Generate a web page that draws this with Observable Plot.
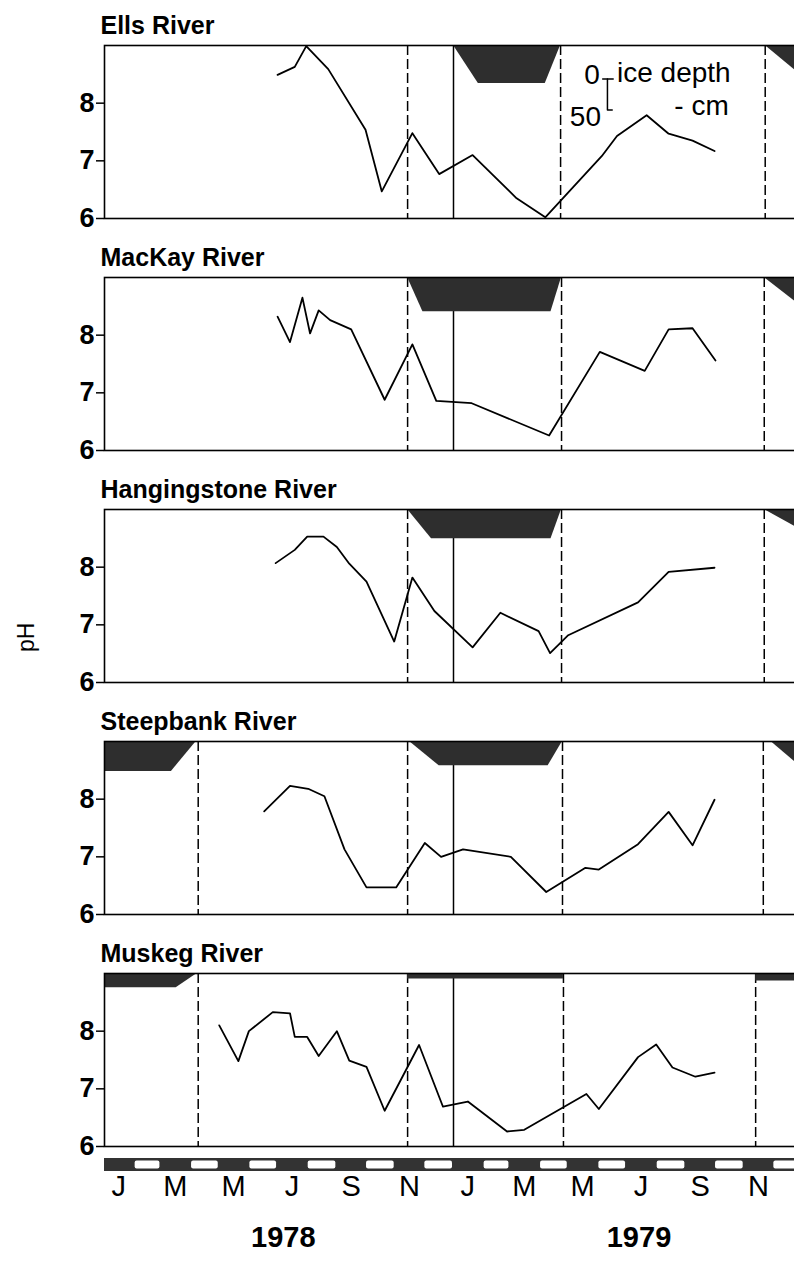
<!DOCTYPE html>
<html>
<head>
<meta charset="utf-8">
<script src="https://cdn.jsdelivr.net/npm/d3@7"></script>
<script src="https://cdn.jsdelivr.net/npm/@observablehq/plot@0.6"></script>
<style>
  html, body { margin: 0; padding: 0; background: #fff; }
  #chart { position: relative; width: 794px; height: 1262px; overflow: hidden; }
  #chart svg { position: absolute; left: 0; overflow: visible; max-width: none !important; }
</style>
</head>
<body>
<div id="chart"></div>
<script>
// ---- pH series (sampling date, pH) ----
const ellsDates = ["1978-07-01","1978-07-19","1978-07-31","1978-08-23","1978-10-01","1978-10-18","1978-11-19","1978-12-17","1979-01-21","1979-03-08","1979-04-07","1979-06-05","1979-06-21","1979-07-22","1979-08-14","1979-09-08","1979-10-01"];
const ellsPH = [8.49,8.63,8.99,8.59,7.54,6.47,7.48,6.77,7.10,6.35,6.02,7.08,7.43,7.79,7.47,7.35,7.17];

const mackayDates = ["1978-07-01","1978-07-14","1978-07-27","1978-08-04","1978-08-13","1978-08-25","1978-09-16","1978-10-21","1978-11-19","1978-12-14","1979-01-20","1979-04-11","1979-06-03","1979-07-20","1979-08-14","1979-09-08","1979-10-02"];
const mackayPH = [8.32,7.88,8.65,8.03,8.43,8.26,8.10,6.88,7.84,6.86,6.82,6.26,7.71,7.38,8.10,8.12,7.56];

const hangDates = ["1978-06-29","1978-07-19","1978-08-01","1978-08-18","1978-09-01","1978-09-14","1978-10-02","1978-10-31","1978-11-19","1978-12-12","1979-01-21","1979-02-19","1979-03-31","1979-04-12","1979-05-01","1979-07-13","1979-08-14","1979-10-01"];
const hangPH = [8.07,8.30,8.53,8.53,8.35,8.06,7.75,6.71,7.82,7.24,6.61,7.21,6.89,6.51,6.82,7.39,7.92,7.99];

const steepDates = ["1978-06-17","1978-07-14","1978-08-02","1978-08-19","1978-09-09","1978-10-02","1978-11-02","1978-12-02","1978-12-19","1979-01-11","1979-03-02","1979-04-08","1979-05-19","1979-06-02","1979-07-13","1979-08-14","1979-09-08","1979-10-01"];
const steepPH = [7.79,8.23,8.18,8.05,7.13,6.47,6.47,7.24,7.00,7.13,7.00,6.39,6.81,6.78,7.22,7.78,7.20,7.99];

const muskegDates = ["1978-05-01","1978-05-21","1978-06-01","1978-06-26","1978-07-14","1978-07-19","1978-08-01","1978-08-13","1978-09-01","1978-09-14","1978-10-02","1978-10-21","1978-11-26","1978-12-21","1979-01-16","1979-02-26","1979-03-16","1979-05-20","1979-06-02","1979-07-13","1979-08-01","1979-08-18","1979-09-11","1979-10-01"];
const muskegPH = [8.10,7.48,8.00,8.33,8.31,7.90,7.90,7.57,8.00,7.49,7.38,6.62,7.76,6.69,6.78,6.26,6.29,6.91,6.65,7.55,7.77,7.37,7.21,7.28];

// ---- ice cover: [season, date, depth in cm] ----
const ellsIce = [[1,"1979-01-01",0],[1,"1979-01-27",61],[1,"1979-04-07",61],[1,"1979-04-23",0],
                 [2,"1979-11-23",0],[2,"1980-01-10",61],[2,"1980-03-01",61]];
const mackayIce = [[1,"1978-11-14",0],[1,"1978-11-30",55],[1,"1979-04-13",55],[1,"1979-04-24",0],
                   [2,"1979-11-22",0],[2,"1980-01-07",55],[2,"1980-03-01",55]];
const hangIce = [[1,"1978-11-14",0],[1,"1978-12-09",47],[1,"1979-04-13",47],[1,"1979-04-24",0],
                 [2,"1979-11-22",0],[2,"1980-01-16",47],[2,"1980-03-01",47]];
const steepIce = [[0,"1978-01-01",48],[0,"1978-03-12",48],[0,"1978-04-07",0],
                  [1,"1978-11-16",0],[1,"1978-12-17",39],[1,"1979-04-10",39],[1,"1979-04-25",0],
                  [2,"1979-11-29",0],[2,"1979-12-29",39],[2,"1980-03-01",39]];
const muskegIce = [[0,"1978-01-01",23],[0,"1978-03-17",23],[0,"1978-04-08",0],
                   [1,"1978-11-14",9],[1,"1979-04-26",9],
                   [2,"1979-11-13",12],[2,"1980-03-01",12]];

// ---- freeze-up / break-up dates (dashed lines) ----
const ellsBreaks = ["1978-11-14","1979-04-23","1979-11-23"];
const mackayBreaks = ["1978-11-14","1979-04-24","1979-11-22"];
const hangBreaks = ["1978-11-14","1979-04-24","1979-11-22"];
const steepBreaks = ["1978-04-09","1978-11-14","1979-04-25","1979-11-21"];
const muskegBreaks = ["1978-04-09","1978-11-14","1979-04-26","1979-11-13"];

const yearStarts = ["1979-01-01"];

const riverNames = ["Ells River","MacKay River","Hangingstone River","Steepbank River","Muskeg River"];

// ---- time axis labels ----
const monthLabels = ["J","M","M","J","S","N","J","M","M","J","S","N"];
const monthLabelDates = ["1978-01-16","1978-03-16","1978-05-16","1978-07-16","1978-09-16","1978-11-16",
                         "1979-01-16","1979-03-16","1979-05-16","1979-07-16","1979-09-16","1979-11-16"];
const yearLabels = ["1978","1979"];
const yearLabelDates = ["1978-07-07","1979-07-14"];

// ---- ice depth key ----
const keyDepths = [0, 50];

// ---------------------------------------------------------------
const parse = d3.utcParse("%Y-%m-%d");
const X_DOMAIN = [parse("1978-01-01"), parse("1980-01-01")];
const PH_MAX = 9;
const PH_PER_CM = 0.0108;   // ice depth drawn hanging from the top of each panel
const FONT = "'Liberation Sans', Arial, Helvetica, sans-serif";
const PANEL_STEP = 232;
const SVG_STYLE = {fontFamily: FONT, color: "black", background: "transparent", overflow: "visible", maxWidth: "none"};

const chart = document.getElementById("chart");

const riverSeries = [
  [ellsDates, ellsPH, ellsIce, ellsBreaks],
  [mackayDates, mackayPH, mackayIce, mackayBreaks],
  [hangDates, hangPH, hangIce, hangBreaks],
  [steepDates, steepPH, steepIce, steepBreaks],
  [muskegDates, muskegPH, muskegIce, muskegBreaks]
];

riverSeries.forEach(([dates, ph, ice, breaks], i) => {
  const series = dates.map((d, j) => ({date: parse(d), ph: ph[j]}));
  const iceRows = ice.map(([season, d, depth]) => ({season, date: parse(d), depth}));

  const marks = [
    Plot.ruleX(breaks.map(parse), {stroke: "black", strokeWidth: 1.5, strokeDasharray: "10,4"}),
    Plot.ruleX(yearStarts.map(parse), {stroke: "black", strokeWidth: 1.5}),
    Plot.area(iceRows, {
      x1: "date", y1: () => PH_MAX, y2: d => PH_MAX - d.depth * PH_PER_CM,
      z: "season", fill: "#2e2e2e", clip: true
    }),
    Plot.line(series, {x: "date", y: "ph", stroke: "black", strokeWidth: 1.8}),
    Plot.frame({stroke: "black", strokeWidth: 1.6}),
    Plot.axisY({ticks: [6, 7, 8], tickFormat: d => String(d), tickSize: 8, tickPadding: 2,
                fontSize: 27, fontWeight: "bold", strokeWidth: 1.5, label: null, fill: "black"}),
    Plot.text([riverNames[i]], {text: d => d, frameAnchor: "top-left", dx: -4, dy: -12,
                lineAnchor: "bottom", textAnchor: "start", fontSize: 25, fontWeight: "bold", fill: "black"})
  ];

  if (i === 0) {
    // ice depth key: 0–50 cm bracket
    const keyTop = 8.42;
    const keyBottom = keyTop - (keyDepths[1] - keyDepths[0]) * PH_PER_CM;
    const bracket = [
      {g: "a", date: parse("1979-06-06"), y: keyTop}, {g: "a", date: parse("1979-06-17"), y: keyTop},
      {g: "b", date: parse("1979-06-11"), y: keyTop}, {g: "b", date: parse("1979-06-11"), y: keyBottom},
      {g: "b", date: parse("1979-06-16"), y: keyBottom}
    ];
    marks.push(
      Plot.line(bracket, {x: "date", y: "y", z: "g", stroke: "black", strokeWidth: 1.5}),
      Plot.text([String(keyDepths[0])], {text: d => d, x: () => parse("1979-05-26"), y: () => keyTop + 0.07,
                 fontSize: 28, fill: "black"}),
      Plot.text([String(keyDepths[1])], {text: d => d, x: () => parse("1979-05-19"), y: () => keyBottom - 0.12,
                 fontSize: 28, fill: "black"}),
      Plot.text(["ice depth"], {text: d => d, x: () => parse("1979-06-21"), y: () => keyTop + 0.1,
                 textAnchor: "start", fontSize: 28, fill: "black"}),
      Plot.text(["- cm"], {text: d => d, x: () => parse("1979-08-20"), y: () => keyBottom + 0.07,
                 textAnchor: "start", fontSize: 28, fill: "black"})
    );
  }
  if (i === 2) {
    marks.push(Plot.text(["pH"], {text: d => d, frameAnchor: "left", dx: -78, dy: 56, rotate: -90,
                fontSize: 23, fill: "black"}));
  }

  const svg = Plot.plot({
    width: 830, height: PANEL_STEP,
    marginLeft: 104, marginRight: 28, marginTop: 45, marginBottom: 14,
    x: {type: "utc", domain: X_DOMAIN, axis: null},
    y: {domain: [6, PH_MAX], axis: null},
    style: SVG_STYLE,
    marks
  });
  svg.style.top = (i * PANEL_STEP) + "px";
  chart.appendChild(svg);
});

// ---- month strip and time labels ----
const allMonths = d3.utcMonth.range(parse("1978-01-01"), parse("1980-03-01"));
const lightMonths = allMonths.filter(d => d.getUTCMonth() % 2 === 1);

const axisSvg = Plot.plot({
  width: 830, height: 112,
  marginLeft: 104, marginRight: 28, marginTop: 8, marginBottom: 91,
  x: {type: "utc", domain: X_DOMAIN, axis: null},
  style: SVG_STYLE,
  marks: [
    Plot.rect([{a: allMonths[0], b: allMonths[allMonths.length - 1]}], {x1: "a", x2: "b", fill: "#333"}),
    Plot.rect(lightMonths, {x1: d => d, x2: d => d3.utcMonth.offset(d, 1), fill: "white",
               insetTop: 2.5, insetBottom: 2.5, insetLeft: 1, insetRight: 1, rx: 2}),
    Plot.text(monthLabels, {text: d => d, x: (d, j) => parse(monthLabelDates[j]), frameAnchor: "bottom",
               dy: 24, fontSize: 29, fill: "black"}),
    Plot.text(yearLabels, {text: d => d, x: (d, j) => parse(yearLabelDates[j]), frameAnchor: "bottom",
               dy: 75, fontSize: 29, fontWeight: "bold", fill: "black"})
  ]
});
axisSvg.style.top = "1150px";
chart.appendChild(axisSvg);
</script>
</body>
</html>
